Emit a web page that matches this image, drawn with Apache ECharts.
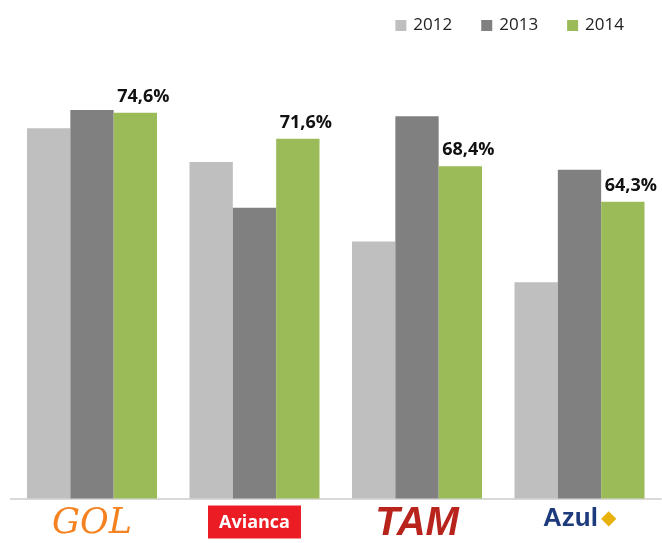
<!DOCTYPE html>
<html>
<head>
<meta charset="utf-8">
<style>
    html, body { margin: 0; padding: 0; background: #fff; }
    #chart { width: 662px; height: 543px; }
</style>
<script src="https://cdn.jsdelivr.net/npm/echarts@6/dist/echarts.min.js"></script>
</head>
<body>
<div id="chart"></div>
<script>
// Chart data
var airlines = ['GOL', 'Avianca', 'TAM', 'Azul'];
var years = ['2012', '2013', '2014'];
var values2012 = [72.8, 68.9, 59.7, 55.0];
var values2013 = [74.9, 63.6, 74.2, 68.0];
var values2014 = [74.6, 71.6, 68.4, 64.3];

var chart = echarts.init(document.getElementById('chart'));

// Label as "74,6%"
var pct = function(p) {
    return p.value.toFixed(1).replace('.', ',') + '%';
};

// Logo-like category labels
var logo = function(v) {
    if (v === 'Azul') {
        return '{azul|Azul} {map|◆}';
    }
    return '{' + v.toLowerCase() + '|' + v + '}';
};

chart.setOption({
    color: ['#bfbfbf', '#808080', '#9bbb59'],
    animation: false,
    textStyle: {
        fontFamily: 'Open Sans, sans-serif'
    },

    legend: {
        data: years,
        top: 12,
        right: 33,
        itemWidth: 11,
        itemHeight: 11,
        itemGap: 29,
        icon: 'rect',
        textStyle: {
            fontSize: 17,
            color: '#222',
            padding: [0, 0, 0, 2]
        }
    },

    grid: {
        left: 10.75,
        right: 1.25,
        top: 66,
        bottom: 44.5,
        containLabel: false,
        outerBoundsMode: 'none'
    },

    xAxis: {
        type: 'category',
        data: airlines,
        axisTick: { show: false },
        axisLine: {
            lineStyle: { color: '#d9d9d9', width: 2 }
        },
        axisLabel: {
            margin: 7,
            formatter: logo,
            rich: {
                gol: {
                    color: '#f58220',
                    fontSize: 35,
                    fontStyle: 'italic',
                    fontFamily: 'DejaVu Serif',
                    fontWeight: 'normal',
                    lineHeight: 36
                },
                avianca: {
                    color: '#fff',
                    backgroundColor: '#ec1c24',
                    fontSize: 18,
                    fontWeight: 'bold',
                    fontFamily: 'Open Sans',
                    padding: [8, 11, 7, 11]
                },
                tam: {
                    color: '#b8231c',
                    fontSize: 40,
                    fontStyle: 'italic',
                    fontWeight: 'bold',
                    fontFamily: 'Liberation Sans',
                    lineHeight: 36
                },
                azul: {
                    color: '#1d3b7c',
                    fontSize: 26,
                    fontWeight: 'bold',
                    fontFamily: 'Liberation Sans'
                },
                map: {
                    color: '#e8b10c',
                    fontSize: 20
                }
            }
        }
    },

    yAxis: {
        type: 'value',
        min: 30,
        max: 80,
        show: false,
        splitLine: { show: false }
    },

    series: [
        {
            name: '2012',
            type: 'bar',
            data: values2012,
            barGap: '0%',
            barCategoryGap: '20%'
        },
        {
            name: '2013',
            type: 'bar',
            data: values2013
        },
        {
            name: '2014',
            type: 'bar',
            data: values2014,
            label: {
                show: true,
                position: 'top',
                distance: 7,
                offset: [8, 0],
                formatter: pct,
                fontSize: 18,
                fontWeight: 'bold',
                color: '#111'
            }
        }
    ]
});
</script>
</body>
</html>
